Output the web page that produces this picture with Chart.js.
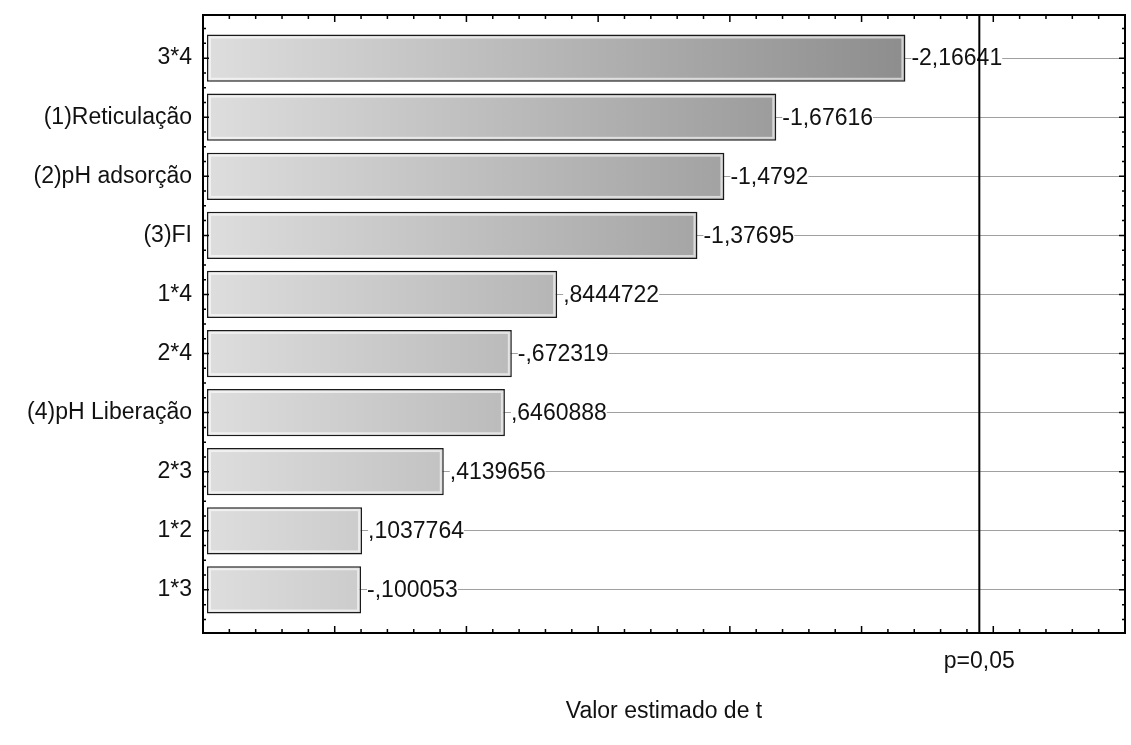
<!DOCTYPE html>
<html>
<head>
<meta charset="utf-8">
<script src="https://cdn.jsdelivr.net/npm/chart.js@4.4.1/dist/chart.umd.min.js"></script>
<style>
html, body { margin: 0; padding: 0; background: #fff; }
#wrap { width: 1131px; height: 745px; }
</style>
</head>
<body>
<div id="wrap"><canvas id="pareto" width="1131" height="745"></canvas></div>
<script>
// effects, top to bottom (sorted by |t|)
const effects = ['3*4', '(1)Reticulação', '(2)pH adsorção', '(3)FI', '1*4',
                 '2*4', '(4)pH Liberação', '2*3', '1*2', '1*3'];
const tValues = [-2.16641, -1.67616, -1.4792, -1.37695, 0.8444722,
                 -0.672319, 0.6460888, 0.4139656, 0.1037764, -0.100053];
const xRange = [-0.5, 3.0];
const pLimit = 2.447;
const pLabel = 'p=0,05';
const xTitle = 'Valor estimado de t';

const BAR_BASE = -0.485;
const FONT = { family: '"Liberation Sans", Arial, sans-serif', size: 23 };
const TEXT = '#111';

// statistica style: -0.672319 -> "-,672319"
const fmt = v => String(v).replace('.', ',').replace(/^(-?)0,/, '$1,');

const paretoDecor = {
    id: 'paretoDecor',
    afterDatasetsDraw(chart) {
        const ctx = chart.ctx;
        const area = chart.chartArea;
        const xs = chart.scales.x, ys = chart.scales.y;
        const bars = chart.getDatasetMeta(0).data.map(b => {
            const p = b.getProps(['x', 'y', 'base', 'height'], true);
            return { l: Math.min(p.x, p.base), r: Math.max(p.x, p.base), y: p.y, h: p.height };
        });
        ctx.save();

        // light inner edge of the bars
        ctx.strokeStyle = 'rgba(255,255,255,0.6)';
        ctx.lineWidth = 2;
        bars.forEach(b => {
            ctx.strokeRect(b.l + 3, b.y - b.h / 2 + 3, b.r - b.l - 6, b.h - 6);
        });

        // value labels
        ctx.font = `${FONT.size}px ${FONT.family}`;
        ctx.textBaseline = 'middle';
        ctx.textAlign = 'left';
        bars.forEach((b, i) => {
            const txt = fmt(tValues[i]);
            const w = ctx.measureText(txt).width;
            const tx = b.r + 6;
            ctx.fillStyle = '#fff';
            ctx.fillRect(tx, b.y - 10, w, 20);
            ctx.fillStyle = TEXT;
            ctx.fillText(txt, tx, b.y + 1);
        });

        // significance line
        const px = xs.getPixelForValue(pLimit);
        ctx.strokeStyle = '#000';
        ctx.lineWidth = 2;
        ctx.beginPath();
        ctx.moveTo(px, area.top);
        ctx.lineTo(px, area.bottom);
        ctx.stroke();
        ctx.fillStyle = TEXT;
        ctx.textAlign = 'center';
        ctx.fillText(pLabel, px, area.bottom + 29);

        // frame
        ctx.strokeRect(area.left, area.top, area.right - area.left, area.bottom - area.top);

        // inward ticks, x: every 0.1, major every 0.5
        ctx.lineWidth = 1.5;
        ctx.beginPath();
        for (let k = Math.round(xRange[0] * 10); k <= Math.round(xRange[1] * 10); k++) {
            const x = xs.getPixelForValue(k / 10);
            const len = k % 5 === 0 ? 7 : 4;
            ctx.moveTo(x, area.bottom); ctx.lineTo(x, area.bottom - len);
            ctx.moveTo(x, area.top); ctx.lineTo(x, area.top + len);
        }
        // y: every quarter, major on each effect
        for (let k = Math.ceil(ys.min * 4); k <= Math.floor(ys.max * 4); k++) {
            const y = ys.getPixelForValue(k / 4);
            const len = k % 4 === 0 ? 6 : 3;
            ctx.moveTo(area.left, y); ctx.lineTo(area.left + len, y);
            ctx.moveTo(area.right, y); ctx.lineTo(area.right - len, y);
        }
        ctx.stroke();
        ctx.restore();
    }
};

new Chart(document.getElementById('pareto').getContext('2d'), {
    type: 'bar',
    data: {
        datasets: [{
            data: tValues.map((v, i) => ({ x: [BAR_BASE, Math.abs(v)], y: i })),
            backgroundColor(c) {
                const a = c.chart.chartArea;
                if (!a) return '#bbbbbb';
                const g = c.chart.ctx.createLinearGradient(a.left, 0, a.right, 0);
                g.addColorStop(0, '#dedede');
                g.addColorStop(1, '#747474');
                return g;
            },
            borderColor: '#1a1a1a',
            borderWidth: 1.5,
            borderSkipped: false,
            barPercentage: 0.8,
            categoryPercentage: 1,
        }],
    },
    options: {
        responsive: false,
        animation: false,
        devicePixelRatio: 1,
        indexAxis: 'y',
        layout: { padding: { top: 15, right: 6, bottom: 0, left: 0 } },
        plugins: { legend: { display: false }, tooltip: { enabled: false } },
        scales: {
            x: {
                type: 'linear', min: xRange[0], max: xRange[1],
                grid: { display: false },
                border: { display: false },
                ticks: { display: false },
                afterFit: s => { s.height = 112; },
                title: { display: true, text: xTitle, font: FONT, color: TEXT, padding: { top: 0, bottom: 20 } },
            },
            y: {
                type: 'linear', reverse: true, min: -0.73, max: 9.73,
                offset: false,
                afterBuildTicks: s => { s.ticks = effects.map((_, i) => ({ value: i })); },
                afterFit: s => { s.width = 203; s.paddingTop = 0; s.paddingBottom = 0; },
                grid: { color: '#a0a0a0', lineWidth: 1, drawTicks: false, offset: false },
                border: { display: false },
                ticks: { callback: v => effects[v], font: FONT, color: TEXT, padding: 11 },
            },
        },
    },
    plugins: [paretoDecor],
});
</script>
</body>
</html>
